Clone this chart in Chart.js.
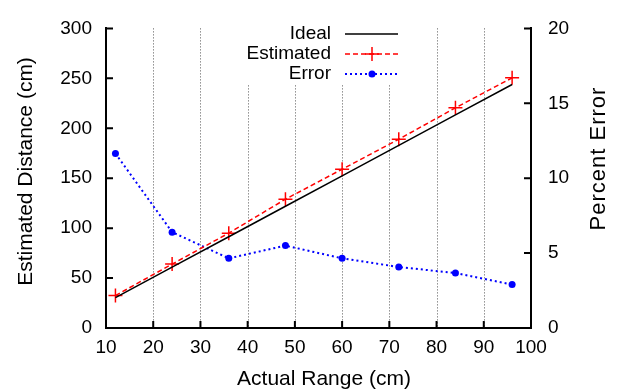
<!DOCTYPE html>
<html>
<head>
<meta charset="utf-8">
<script src="https://cdn.jsdelivr.net/npm/chart.js@4"></script>
<style>
  html, body { margin: 0; padding: 0; background: #fff; }
  #wrap { width: 617px; height: 391px; }
</style>
</head>
<body>
<div id="wrap"><canvas id="chart" width="617" height="391"></canvas></div>
<script>
// Actual range (cm) for each measurement
const actualRange = [12, 24, 36, 48, 60, 72, 84, 96];
// Ideal distance (cm)
const idealDistance = [30.5, 61.0, 91.4, 121.9, 152.4, 182.9, 213.4, 243.8];
// Estimated distance (cm)
const estimatedDistance = [32.5, 64, 95, 129, 159, 189, 220.5, 250.5];
// Percent error
const percentError = [11.65, 6.4, 4.65, 5.5, 4.65, 4.07, 3.67, 2.9];

const xTicks = [10, 20, 30, 40, 50, 60, 70, 80, 90, 100];
const FONT = "'Liberation Sans', Arial, Helvetica, sans-serif";

const toPoints = ys => actualRange.map((x, i) => ({ x, y: ys[i] }));

const legendItems = [
  { label: "Ideal", color: "#000", dash: [], marker: null },
  { label: "Estimated", color: "#ff0000", dash: [5, 3], marker: "cross" },
  { label: "Error", color: "#0000ff", dash: [2, 3], marker: "circle" }
];

function rotatedText(ctx, text, x, y, size, spacing) {
  ctx.save();
  ctx.translate(x, y);
  ctx.rotate(-Math.PI / 2);
  ctx.font = size + "px " + FONT;
  ctx.letterSpacing = spacing + "px";
  ctx.textAlign = "center";
  ctx.textBaseline = "alphabetic";
  ctx.fillStyle = "#000";
  ctx.fillText(text, 0, 0);
  ctx.restore();
}

// gnuplot style: dotted grid, inward ticks, titles, legend box
const gnuplotBits = {
  id: "gnuplotBits",
  beforeDatasetsDraw(chart) {
    const ctx = chart.ctx;
    const { top, bottom } = chart.chartArea;
    const sx = chart.scales.x;
    ctx.save();
    ctx.strokeStyle = "#555";
    ctx.lineWidth = 1;
    ctx.setLineDash([1, 2]);
    ctx.beginPath();
    xTicks.slice(1, -1).forEach(v => {
      const px = Math.round(sx.getPixelForValue(v)) + 0.5;
      ctx.moveTo(px, top);
      ctx.lineTo(px, bottom);
    });
    ctx.stroke();
    ctx.setLineDash([]);
    ctx.fillStyle = "#fff";
    ctx.fillRect(238, 24, 166, 60);
    ctx.restore();
  },
  afterDraw(chart) {
    const ctx = chart.ctx;
    const { left, right, bottom } = chart.chartArea;
    const sx = chart.scales.x, sy = chart.scales.y, sy2 = chart.scales.y2;
    ctx.save();
    ctx.strokeStyle = "#000";
    ctx.lineWidth = 2;
    ctx.beginPath();
    sx.ticks.forEach(t => {
      const px = sx.getPixelForValue(t.value);
      ctx.moveTo(px, bottom);
      ctx.lineTo(px, bottom - 7);
    });
    sy.ticks.forEach(t => {
      const py = sy.getPixelForValue(t.value);
      ctx.moveTo(left, py);
      ctx.lineTo(left + 7, py);
    });
    sy2.ticks.forEach(t => {
      const py = sy2.getPixelForValue(t.value);
      ctx.moveTo(right, py);
      ctx.lineTo(right - 7, py);
    });
    ctx.stroke();

    // axis titles
    ctx.fillStyle = "#000";
    ctx.font = "21px " + FONT;
    ctx.textAlign = "center";
    ctx.textBaseline = "alphabetic";
    ctx.fillText("Actual Range (cm)", 324, 385);
    rotatedText(ctx, "Estimated Distance (cm)", 32, 171.5, 21, 0);
    rotatedText(ctx, "Percent Error", 605, 158.5, 22, 1);

    // legend
    ctx.font = "19px " + FONT;
    ctx.textAlign = "right";
    ctx.textBaseline = "middle";
    legendItems.forEach((it, i) => {
      const y = 34 + i * 20;
      ctx.fillStyle = "#000";
      ctx.fillText(it.label, 331, y);
      ctx.strokeStyle = it.color;
      ctx.fillStyle = it.color;
      ctx.lineWidth = it.marker === "circle" ? 2 : 1.5;
      ctx.setLineDash(it.dash);
      ctx.beginPath();
      ctx.moveTo(345, y);
      ctx.lineTo(398, y);
      ctx.stroke();
      ctx.setLineDash([]);
      if (it.marker === "cross") {
        ctx.beginPath();
        ctx.moveTo(365, y); ctx.lineTo(379, y);
        ctx.moveTo(372, y - 7); ctx.lineTo(372, y + 7);
        ctx.stroke();
      } else if (it.marker === "circle") {
        ctx.beginPath();
        ctx.arc(372, y, 3.5, 0, Math.PI * 2);
        ctx.fill();
      }
    });
    ctx.restore();
  }
};

new Chart(document.getElementById("chart"), {
  type: "line",
  data: {
    datasets: [
      {
        label: "Ideal",
        data: toPoints(idealDistance),
        yAxisID: "y",
        borderColor: "#000",
        borderWidth: 1.5,
        pointRadius: 0,
        tension: 0
      },
      {
        label: "Estimated",
        data: toPoints(estimatedDistance),
        yAxisID: "y",
        borderColor: "#ff0000",
        borderWidth: 1.5,
        borderDash: [5, 3],
        pointStyle: "cross",
        pointRadius: 7,
        pointBorderWidth: 1.5,
        pointBorderColor: "#ff0000",
        tension: 0
      },
      {
        label: "Error",
        data: toPoints(percentError),
        yAxisID: "y2",
        borderColor: "#0000ff",
        borderWidth: 2,
        borderDash: [2, 3],
        pointStyle: "circle",
        pointRadius: 3.5,
        pointBorderWidth: 0,
        pointBackgroundColor: "#0000ff",
        tension: 0
      }
    ]
  },
  options: {
    responsive: false,
    animation: false,
    layout: { padding: { top: 17, left: 0, right: 0, bottom: 0 } },
    plugins: { legend: { display: false }, tooltip: { enabled: false } },
    scales: {
      x: {
        type: "linear",
        min: 10,
        max: 100,
        afterBuildTicks: s => { s.ticks = xTicks.map(v => ({ value: v })); },
        afterFit: s => { s.height = 63; },
        ticks: { color: "#000", font: { family: FONT, size: 19 }, padding: 8, maxRotation: 0 },
        grid: { display: false, drawTicks: false },
        border: { display: true, color: "#000", width: 2 }
      },
      y: {
        position: "left",
        min: 0,
        max: 300,
        ticks: { stepSize: 50, color: "#000", font: { family: FONT, size: 19 }, padding: 14 },
        afterFit: s => { s.width = 106; },
        grid: { display: false, drawTicks: false },
        border: { display: true, color: "#000", width: 2 }
      },
      y2: {
        position: "right",
        min: 0,
        max: 20,
        ticks: { stepSize: 5, color: "#000", font: { family: FONT, size: 19 }, padding: 17 },
        afterFit: s => { s.width = 86; },
        grid: { display: false, drawTicks: false },
        border: { display: true, color: "#000", width: 2 }
      }
    }
  },
  plugins: [gnuplotBits]
});
</script>
</body>
</html>
